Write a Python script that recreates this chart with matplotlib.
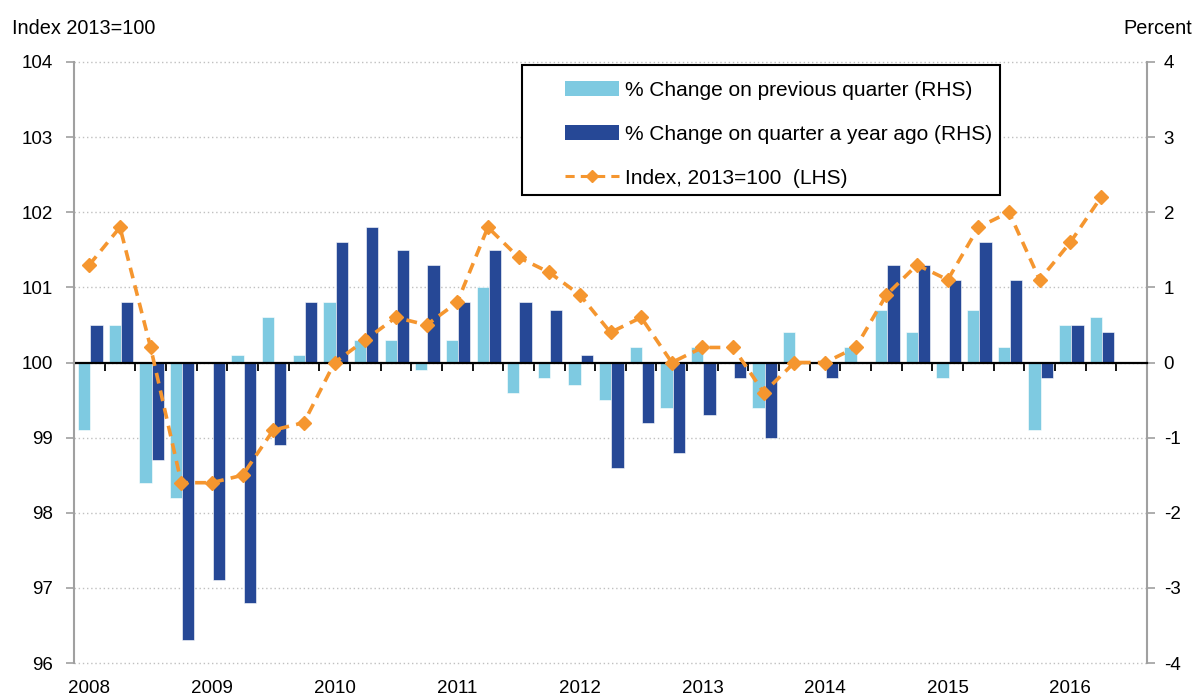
import numpy as np
import matplotlib
matplotlib.use("Agg")
import matplotlib.pyplot as plt
from matplotlib.patches import Patch, Rectangle
from matplotlib.lines import Line2D

plt.rcParams['font.family'] = ['Liberation Sans', 'DejaVu Sans']
plt.rcParams['axes.unicode_minus'] = False

# Daten: 2008 Q1 bis 2016 Q2
years = ['2008', '2009', '2010', '2011', '2012', '2013', '2014', '2015', '2016']
q_on_q = [-0.9, 0.5, -1.6, -1.8, 0.0, 0.1, 0.6, 0.1, 0.8, 0.3, 0.3, -0.1,
          0.3, 1.0, -0.4, -0.2, -0.3, -0.5, 0.2, -0.6, 0.2, 0.0, -0.6, 0.4,
          0.0, 0.2, 0.7, 0.4, -0.2, 0.7, 0.2, -0.9, 0.5, 0.6]
y_on_y = [0.5, 0.8, -1.3, -3.7, -2.9, -3.2, -1.1, 0.8, 1.6, 1.8, 1.5, 1.3,
          0.8, 1.5, 0.8, 0.7, 0.1, -1.4, -0.8, -1.2, -0.7, -0.2, -1.0, 0.0,
          -0.2, 0.0, 1.3, 1.3, 1.1, 1.6, 1.1, -0.2, 0.5, 0.4]
index = [101.3, 101.8, 100.2, 98.4, 98.4, 98.5, 99.1, 99.2, 100.0, 100.3,
         100.6, 100.5, 100.8, 101.8, 101.4, 101.2, 100.9, 100.4, 100.6, 100.0,
         100.2, 100.2, 99.6, 100.0, 100.0, 100.2, 100.9, 101.3, 101.1, 101.8,
         102.0, 101.1, 101.6, 102.2]
labels = ['% Change on previous quarter (RHS)',
          '% Change on quarter a year ago (RHS)',
          'Index, 2013=100  (LHS)']

light = '#7ECAE1'
dark = '#264896'
orange = '#F5962F'
grey = '#a0a0a0'
fs = 13.5

x = np.arange(len(index))
n_slots = len(index) + 1  # letzter Slot leer

fig = plt.figure(figsize=(11.95, 6.98), dpi=100)
ax = fig.add_axes([74 / 1195, 1 - 663 / 698, 1073 / 1195, 601 / 698])
ax2 = ax.twinx()
ax.set_zorder(2)
ax2.set_zorder(1)
ax.patch.set_visible(False)
ax2.patch.set_visible(True)

# Balken (rechte Achse)
ax2.bar(x - 0.17, q_on_q, width=0.4, color=light, edgecolor='white', linewidth=0.4, zorder=2)
ax2.bar(x + 0.23, y_on_y, width=0.4, color=dark, edgecolor='white', linewidth=0.4, zorder=2)
ax2.set_ylim(-4, 4)
ax2.set_yticks(range(-4, 5))
ax2.set_axisbelow(True)
ax2.yaxis.grid(True, linestyle=(0, (1, 2)), color='#c0c0c0', linewidth=1, clip_on=False)

# Index (linke Achse)
ax.plot(x, index, color=orange, linestyle=(0, (3, 2)), linewidth=2.6,
        marker='D', markersize=7.5, zorder=4)
ax.set_ylim(96, 104)
ax.set_yticks(range(96, 105))

ax.set_xlim(-0.5, n_slots - 0.5)
ax.set_xticks(np.arange(0, n_slots, 4)[:len(years)], years)
ax.set_xticks(np.arange(n_slots + 1) - 0.5, minor=True)
ax.tick_params(axis='x', which='both', length=0, labelsize=fs, pad=12)
ax.tick_params(axis='y', length=6, width=1.2, color=grey, labelsize=fs, pad=9)

ax2.xaxis.set_visible(True)
ax2.tick_params(axis='x', which='major', length=0, labelbottom=False)
ax2.tick_params(axis='x', which='minor', length=6, width=1.3, color='black', direction='out')
ax2.tick_params(axis='y', length=6, width=1.2, color=grey, labelsize=fs, pad=6)

for s in ['top', 'right', 'bottom']:
    ax.spines[s].set_visible(False)
ax.spines['left'].set_color(grey)
ax.spines['left'].set_linewidth(1.5)
for s in ['top', 'left']:
    ax2.spines[s].set_visible(False)
ax2.spines['right'].set_color(grey)
ax2.spines['right'].set_linewidth(1.5)
ax2.spines['bottom'].set_position(('data', 0))
ax2.spines['bottom'].set_color('black')
ax2.spines['bottom'].set_linewidth(1.6)
ax2.spines['bottom'].set_zorder(3)

# Legende mit eigenem Rahmen
box = Rectangle((0.4175, 0.779), 0.4455, 0.216, transform=ax.transAxes,
                facecolor='white', edgecolor='black', linewidth=1.5, zorder=5)
ax.add_patch(box)
handles = [Patch(facecolor=light), Patch(facecolor=dark),
           Line2D([], [], color=orange, linestyle=(0, (3, 2)), linewidth=2.2,
                  marker='D', markersize=6)]
leg = ax.legend(handles, labels, loc='upper left', bbox_to_anchor=(0.4576, 0.969),
                frameon=False, fontsize=15, borderpad=0, handlelength=2.6,
                handletextpad=0.3, labelspacing=1.2, borderaxespad=0)
leg.set_zorder(6)

fig.text(12 / 1195, 1 - 28 / 698, 'Index 2013=100', fontsize=14.3, ha='left', va='center')
fig.text(1192 / 1195, 1 - 28 / 698, 'Percent', fontsize=14.3, ha='right', va='center')

fig.savefig('out.png', dpi=100)
